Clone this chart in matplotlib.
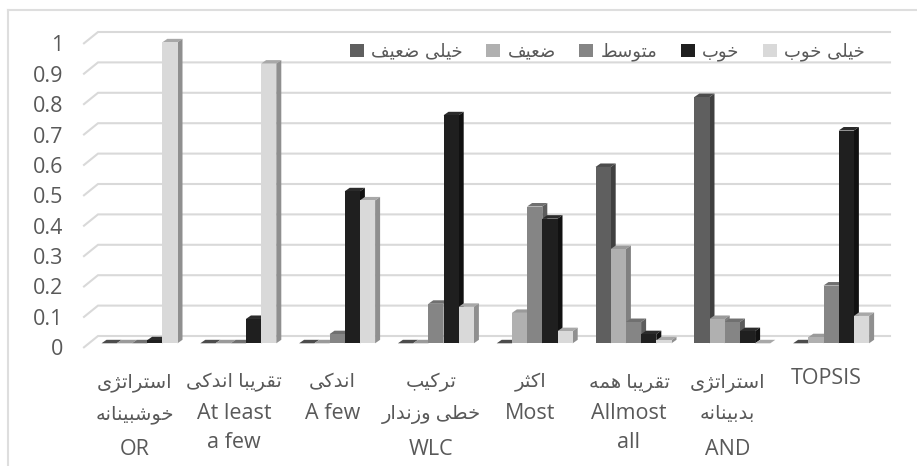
import matplotlib
matplotlib.use("Agg")
import matplotlib.pyplot as plt
from matplotlib.lines import Line2D
from matplotlib.transforms import ScaledTranslation

series_names = ["خیلی ضعیف", "ضعیف", "متوسط", "خوب", "خیلی خوب"]
very_weak = [0, 0, 0, 0, 0, 0.58, 0.81, 0]
weak = [0, 0, 0, 0, 0.10, 0.31, 0.08, 0.02]
medium = [0, 0, 0.03, 0.13, 0.45, 0.07, 0.07, 0.19]
good = [0.01, 0.08, 0.50, 0.75, 0.41, 0.03, 0.04, 0.70]
very_good = [0.99, 0.92, 0.47, 0.12, 0.04, 0.01, 0, 0.09]
categories = [
    ["استراتژی", "خوشبینانه", "OR"],
    ["تقریبا اندکی", "At least", "a few"],
    ["اندکی", "A few"],
    ["ترکیب", "خطی وزندار", "WLC"],
    ["اکثر", "Most"],
    ["تقریبا همه", "Allmost", "all"],
    ["استراتژی", "بدبینانه", "AND"],
    ["TOPSIS"],
]
y_ticks = [0, 0.1, 0.2, 0.3, 0.4, 0.5, 0.6, 0.7, 0.8, 0.9, 1]
y_tick_labels = ["0", "0.1", "0.2", "0.3", "0.4", "0.5", "0.6", "0.7", "0.8", "0.9", "1"]

# front, top, side colours per series
colors = [
    ("#5f5f5f", "#4c4c4c", "#404040"),
    ("#b0b0b0", "#9a9a9a", "#808080"),
    ("#858585", "#707070", "#5c5c5c"),
    ("#1f1f1f", "#2b2b2b", "#111111"),
    ("#d9d9d9", "#a8a8a8", "#8f8f8f"),
]

# (first presentation form code, joins to the next letter)
ARABIC_FORMS = {
    "ا": (0xFE8D, False), "ب": (0xFE8F, True), "ت": (0xFE95, True), "ث": (0xFE99, True),
    "خ": (0xFEA5, True), "د": (0xFEA9, False), "ر": (0xFEAD, False), "ز": (0xFEAF, False),
    "ژ": (0xFB8A, False), "س": (0xFEB1, True), "ش": (0xFEB5, True), "ض": (0xFEBD, True),
    "ط": (0xFEC1, True), "ع": (0xFEC9, True), "ف": (0xFED1, True), "ق": (0xFED5, True),
    "ک": (0xFB8E, True), "ل": (0xFEDD, True), "م": (0xFEE1, True), "ن": (0xFEE5, True),
    "ه": (0xFEE9, True), "و": (0xFEED, False), "ی": (0xFBFC, True),
}


def is_persian(text):
    return any(c in ARABIC_FORMS for c in text)


def shape(text):
    # matplotlib has no text shaping, so pick the joined glyphs and reverse by hand
    if not is_persian(text):
        return text
    out = []
    for i, c in enumerate(text):
        if c not in ARABIC_FORMS:
            out.append(c)
            continue
        base, joins_next = ARABIC_FORMS[c]
        prev_c = text[i - 1] if i > 0 else " "
        next_c = text[i + 1] if i + 1 < len(text) else " "
        from_prev = prev_c in ARABIC_FORMS and ARABIC_FORMS[prev_c][1]
        to_next = joins_next and next_c in ARABIC_FORMS
        if from_prev and to_next:
            form = 3
        elif to_next:
            form = 2
        elif from_prev:
            form = 1
        else:
            form = 0
        out.append(chr(base + form))
    return "".join(reversed(out))


def draw_bars(ax, all_values, bar_w, dx, dy, shift):
    # one bar at a time, left to right, so the next front hides the previous side
    for j, values in enumerate(all_values):
        front, top, side = colors[j]
        for i, v in enumerate(values):
            x0 = i + shift + (j - 2.5) * bar_w
            x1 = x0 + bar_w
            ax.fill([x0, x1, x1 + dx, x0 + dx], [v, v, v + dy, v + dy], color=top, lw=0, zorder=3, clip_on=False)
            ax.fill([x1, x1 + dx, x1 + dx, x1], [0, dy, v + dy, v], color=side, lw=0, zorder=3, clip_on=False)
            ax.bar(x0, v, width=bar_w, align="edge", color=front, lw=0, zorder=3.5)


def draw_category_labels(ax, zero_y):
    # baselines in pixels, the source line height differs between Persian and Latin rows
    for i, lines in enumerate(categories):
        for row, line in enumerate(lines):
            if lines == ["TOPSIS"]:
                base = 384
            elif row == 2:
                base = 455 if is_persian(lines[1]) else 448
            else:
                base = [387, 419][row]
            ax.annotate(shape(line), xy=(i, 0), xycoords=ax.get_xaxis_transform(),
                        xytext=(0, (zero_y - base) * 0.72), textcoords="offset points",
                        ha="center", va="baseline", color="#595959",
                        fontsize=14 if is_persian(line) else 15.5,
                        family=["Open Sans", "DejaVu Sans"], annotation_clip=False)


def main():
    fig = plt.figure(figsize=(9.17, 4.66), dpi=100)
    ax = fig.add_axes([85.6 / 917, (466 - 343.3) / 466, 790.4 / 917, 304 / 466])
    ax.set_xlim(-0.5, 7.5)
    ax.set_ylim(0, 1)
    px_x = 1 / 98.8
    px_y = 1 / 304

    # outer chart frame, cut by the picture on the right and bottom
    for xs, ys in [((7.5, 917), (10, 10)), ((7.5, 7.5), (10, 466))]:
        fig.add_artist(Line2D([x / 917 for x in xs], [1 - y / 466 for y in ys], color="#dedede", lw=1.5))

    # gridlines on the back wall and the short floor diagonals
    for v in y_ticks:
        x_front = -0.5 - 1.6 * px_x
        x_back = x_front + 14 * px_x
        y_front = v - 4 * px_y
        y_back = v + 7.3 * px_y
        ax.plot([x_front, x_back, 7.5 + 14 * px_x], [y_front, y_back, y_back], color="#d9d9d9", lw=1.5,
                zorder=1, clip_on=False, solid_joinstyle="miter")

    all_values = [very_weak, weak, medium, good, very_good]
    draw_bars(ax, all_values, 15.2 * px_x, 5 * px_x, 3.5 * px_y, 4.5 * px_x)

    for spine in ax.spines.values():
        spine.set_visible(False)
    ax.patch.set_visible(False)

    ax.set_yticks(y_ticks)
    ax.set_yticklabels(y_tick_labels, fontsize=15.5, color="#595959", family=["Open Sans", "DejaVu Sans"])
    ax.tick_params(axis="y", length=0, pad=16)
    down = ScaledTranslation(0, -4 / 100, fig.dpi_scale_trans)
    for label in ax.get_yticklabels():
        label.set_transform(label.get_transform() + down)

    ax.set_xticks(range(len(categories)))
    ax.set_xticklabels([])
    ax.tick_params(axis="x", length=0)
    draw_category_labels(ax, 343.3)

    handles = [plt.Rectangle((0, 0), 1, 1, color=c[0], lw=0) for c in colors]
    leg = ax.legend(handles, [shape(n) for n in series_names], ncol=5, frameon=False,
                    loc="center left", bbox_to_anchor=(264 / 790.4, 0.958),
                    prop={"family": "DejaVu Sans", "size": 13}, labelcolor="#595959",
                    handlelength=0.8, handleheight=0.8, handletextpad=0.4, columnspacing=1.28,
                    borderpad=0, borderaxespad=0)
    leg.set_zorder(2)

    fig.savefig("out.png", dpi=100)


if __name__ == '__main__':
    main()
